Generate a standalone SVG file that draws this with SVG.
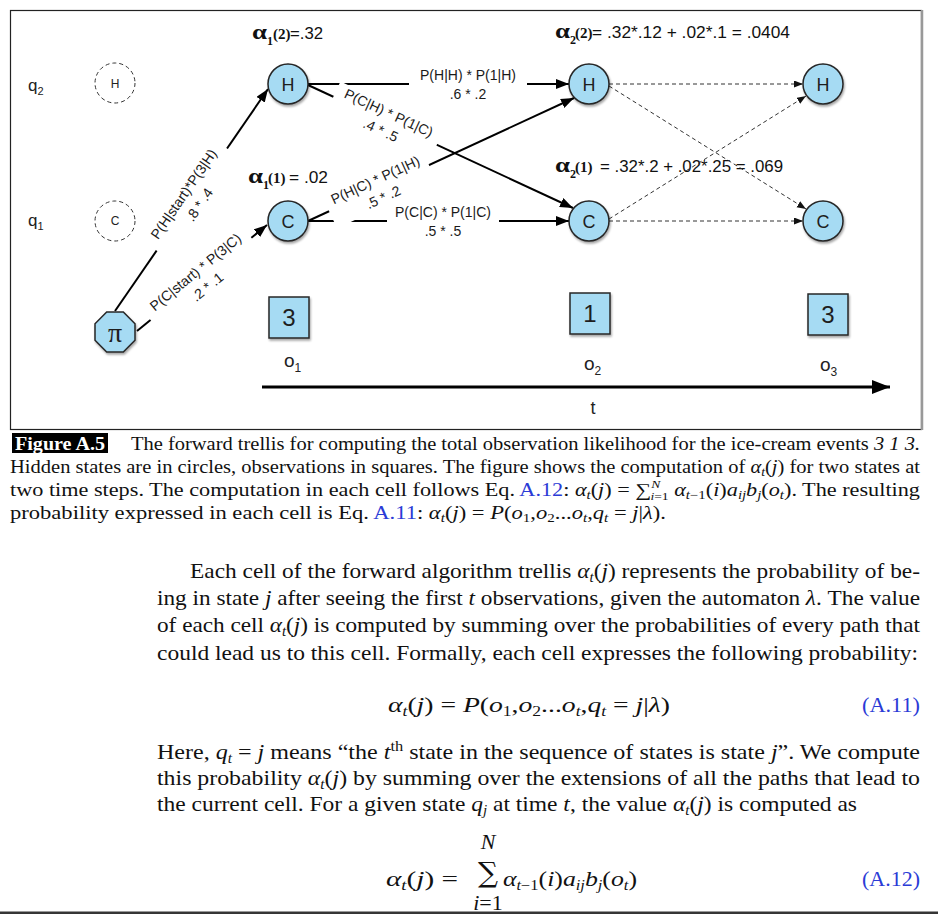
<svg xmlns="http://www.w3.org/2000/svg" width="938" height="914" viewBox="0 0 938 914">
<defs>
<style>
.sans{font-family:"Liberation Sans",Arial,sans-serif}
.node{fill:#a6dbf3;stroke:#262626;stroke-width:1.5}
.nt{font-family:"Liberation Sans",Arial,sans-serif;font-size:18px;fill:#1e1e1e;text-anchor:middle}
.ot{font-family:"Liberation Sans",Arial,sans-serif;font-size:24px;fill:#1e1e1e;text-anchor:middle}
.ghost{fill:none;stroke:#333;stroke-width:1;stroke-dasharray:4 3}
.gt{font-family:"Liberation Sans",Arial,sans-serif;font-size:12px;fill:#222;text-anchor:middle}
.e{stroke:#000;stroke-width:2;fill:none}
.d{stroke:#333;stroke-width:1;stroke-dasharray:4 3;fill:none}
.lb{font-family:"Liberation Sans",Arial,sans-serif;font-size:14px;fill:#1a1a1a;text-anchor:middle}
.bg{fill:#fff}
.ab{font-family:"Liberation Serif","Times New Roman",serif;font-weight:bold;fill:#111}
.as{font-family:"Liberation Sans",Arial,sans-serif;font-size:16px;fill:#111}
.ql{font-family:"Liberation Sans",Arial,sans-serif;fill:#222}
.cap{font-family:"Liberation Serif","Times New Roman",serif;font-size:18px;fill:#111}
.bd{font-family:"Liberation Serif","Times New Roman",serif;font-size:22px;fill:#111}
.i{font-style:italic}
.blue{fill:#2b3bd6}
</style>
<marker id="ah" markerUnits="userSpaceOnUse" markerWidth="14" markerHeight="10" refX="13" refY="5" orient="auto"><path d="M0,0 L13,5 L0,10 z" fill="#000"/></marker>
<marker id="ahd" markerUnits="userSpaceOnUse" markerWidth="10" markerHeight="8" refX="9" refY="3.5" orient="auto"><path d="M0,0 L9,3.5 L0,7 z" fill="#111"/></marker>
<marker id="aht" markerUnits="userSpaceOnUse" markerWidth="19" markerHeight="14" refX="18" refY="7" orient="auto"><path d="M0,0 L18,7 L0,14 z" fill="#000"/></marker>
<filter id="sh" x="-30%" y="-30%" width="160%" height="160%"><feDropShadow dx="1" dy="2" stdDeviation="1.2" flood-color="#000" flood-opacity="0.35"/></filter>
</defs>

<rect width="938" height="914" fill="#fff"/>
<rect x="10.5" y="10.5" width="911" height="419" fill="none" stroke="#222" stroke-width="1.2"/>
<line x1="922" y1="10" x2="922" y2="430" stroke="#999" stroke-width="2.5"/>
<rect x="0" y="911.5" width="938" height="2.5" fill="#353535"/>

<!-- row labels -->
<text class="ql" x="28" y="91" font-size="17">q<tspan font-size="11" dy="4">2</tspan></text>
<text class="ql" x="28" y="226" font-size="17">q<tspan font-size="11" dy="4">1</tspan></text>

<!-- alpha labels -->
<g id="alpha12">
<text class="ab" x="252" y="39" font-size="20" textLength="15" lengthAdjust="spacingAndGlyphs">α</text>
<text class="ab" x="267" y="45" font-size="12">1</text>
<text class="ab" x="273" y="39" font-size="15">(2)</text>
<text class="as" x="290" y="39" textLength="33" lengthAdjust="spacingAndGlyphs">=.32</text>
</g>
<g id="alpha11">
<text class="ab" x="248" y="183" font-size="20" textLength="15" lengthAdjust="spacingAndGlyphs">α</text>
<text class="ab" x="263" y="189" font-size="12">1</text>
<text class="ab" x="268" y="183" font-size="15">(1)</text>
<text class="as" x="289" y="183" textLength="39" lengthAdjust="spacingAndGlyphs">= .02</text>
</g>
<g id="alpha22">
<text class="ab" x="555" y="38" font-size="20" textLength="15" lengthAdjust="spacingAndGlyphs">α</text>
<text class="ab" x="570" y="44" font-size="12">2</text>
<text class="ab" x="575" y="38" font-size="15">(2)</text>
<text class="as" x="592" y="38" textLength="198" lengthAdjust="spacingAndGlyphs">= .32*.12 + .02*.1 = .0404</text>
</g>
<g id="alpha21">
<text class="ab" x="555" y="172" font-size="20" textLength="15" lengthAdjust="spacingAndGlyphs">α</text>
<text class="ab" x="570" y="178" font-size="12">2</text>
<text class="ab" x="575" y="172" font-size="15">(1)</text>
<text class="as" x="600" y="172" textLength="183" lengthAdjust="spacingAndGlyphs">= .32*.2 + .02*.25 = .069</text>
</g>

<!-- connectors -->
<g id="connectors">
<line class="e" x1="115" y1="311" x2="268" y2="89" marker-end="url(#ah)"/>
<line class="e" x1="137" y1="331" x2="267" y2="225" marker-end="url(#ah)"/>
<line class="e" x1="308" y1="84" x2="569" y2="84" marker-end="url(#ah)"/>
<line class="e" x1="308" y1="85" x2="573" y2="208" marker-end="url(#ah)"/>
<line class="e" x1="308" y1="221" x2="574" y2="98" marker-end="url(#ah)"/>
<line class="e" x1="308" y1="221" x2="569" y2="221" marker-end="url(#ah)"/>
<line class="d" x1="609" y1="84" x2="803" y2="84" marker-end="url(#ahd)"/>
<line class="d" x1="609" y1="86" x2="806" y2="209" marker-end="url(#ahd)"/>
<line class="d" x1="609" y1="219" x2="806" y2="96" marker-end="url(#ahd)"/>
<line class="d" x1="609" y1="221" x2="803" y2="221" marker-end="url(#ahd)"/>
<line x1="262" y1="387" x2="890" y2="387" stroke="#000" stroke-width="3" marker-end="url(#aht)"/>

<g transform="translate(191,199) rotate(-55.6)"><rect class="bg" x="-62" y="-17" width="124" height="36"/><text class="lb" y="-4">P(H|start)*P(3|H)</text><text class="lb" y="15">.8 * .4</text></g>
<g transform="translate(201,279) rotate(-39.2)"><rect class="bg" x="-65" y="-17" width="130" height="36"/><text class="lb" y="-4">P(C|start) * P(3|C)</text><text class="lb" y="15">.2 * .1</text></g>
<g transform="translate(385,121) rotate(24.9)"><rect class="bg" x="-57" y="-17" width="114" height="36"/><text class="lb" y="-4">P(C|H) * P(1|C)</text><text class="lb" y="15">.4 * .5</text></g>
<g transform="translate(379,188) rotate(-24.8)"><rect class="bg" x="-55" y="-17" width="110" height="36"/><text class="lb" y="-4">P(H|C) * P(1|H)</text><text class="lb" y="15">.5 * .2</text></g>
<g transform="translate(468,84)"><rect class="bg" x="-59" y="-17" width="118" height="36"/><text class="lb" y="-4">P(H|H) * P(1|H)</text><text class="lb" y="15">.6 * .2</text></g>
<g transform="translate(443,221)"><rect class="bg" x="-56" y="-17" width="112" height="36"/><text class="lb" y="-4">P(C|C) * P(1|C)</text><text class="lb" y="15">.5 * .5</text></g>
</g>

<!-- nodes -->
<g id="ghostH"><circle class="ghost" cx="115" cy="83" r="20"/><text class="gt" x="115" y="88">H</text></g>
<g id="ghostC"><circle class="ghost" cx="115" cy="221" r="20"/><text class="gt" x="115" y="225">C</text></g>
<g id="pi"><polygon class="node" filter="url(#sh)" points="135,340.3 123.3,352 106.7,352 95,340.3 95,323.7 106.7,312 123.3,312 135,323.7"/><text x="115" y="342" text-anchor="middle" font-family="Liberation Serif, serif" font-size="28" fill="#1e1e1e">π</text></g>
<g id="H1"><circle class="node" filter="url(#sh)" cx="288" cy="84" r="20"/><text class="nt" x="288" y="91">H</text></g>
<g id="C1"><circle class="node" filter="url(#sh)" cx="288" cy="221" r="20"/><text class="nt" x="288" y="228">C</text></g>
<g id="H2"><circle class="node" filter="url(#sh)" cx="589" cy="84" r="20"/><text class="nt" x="589" y="91">H</text></g>
<g id="C2"><circle class="node" filter="url(#sh)" cx="589" cy="221" r="20"/><text class="nt" x="589" y="228">C</text></g>
<g id="H3"><circle class="node" filter="url(#sh)" cx="823" cy="84" r="20"/><text class="nt" x="823" y="91">H</text></g>
<g id="C3"><circle class="node" filter="url(#sh)" cx="823" cy="221" r="20"/><text class="nt" x="823" y="228">C</text></g>
<g id="obs1"><rect class="node" filter="url(#sh)" x="269" y="297" width="40" height="41"/><text class="ot" x="289" y="326">3</text></g>
<g id="obs2"><rect class="node" filter="url(#sh)" x="570" y="293" width="40" height="41"/><text class="ot" x="590" y="322">1</text></g>
<g id="obs3"><rect class="node" filter="url(#sh)" x="808" y="294" width="40" height="41"/><text class="ot" x="828" y="323">3</text></g>

<text class="ql" x="284" y="367" font-size="19">o<tspan font-size="12" dy="5">1</tspan></text>
<text class="ql" x="584" y="370" font-size="19">o<tspan font-size="12" dy="5">2</tspan></text>
<text class="ql" x="820" y="371" font-size="19">o<tspan font-size="12" dy="5">3</tspan></text>
<text class="ql" x="593" y="414" font-size="18" text-anchor="middle">t</text>

<!-- caption -->
<rect x="12" y="433" width="96" height="20" fill="#000"/>
<text x="15" y="450" font-family="Liberation Serif, serif" font-weight="bold" font-size="19" fill="#fff" textLength="90" lengthAdjust="spacingAndGlyphs">Figure A.5</text>
<text class="cap" x="131" y="450" textLength="789" lengthAdjust="spacingAndGlyphs">The forward trellis for computing the total observation likelihood for the ice-cream events <tspan class="i">3 1 3.</tspan></text>
<text class="cap" x="10" y="473" textLength="910" lengthAdjust="spacingAndGlyphs">Hidden states are in circles, observations in squares. The figure shows the computation of <tspan class="i">α</tspan><tspan class="i" font-size="12" dy="3">t</tspan><tspan dy="-3">(</tspan><tspan class="i">j</tspan>) for two states at</text>
<text class="cap" x="10" y="496" textLength="910" lengthAdjust="spacingAndGlyphs">two time steps. The computation in each cell follows Eq. <tspan class="blue">A.12</tspan>: <tspan class="i">α</tspan><tspan class="i" font-size="12" dy="3">t</tspan><tspan dy="-3">(</tspan><tspan class="i">j</tspan>) = ∑<tspan class="i" font-size="11" dy="-8">N</tspan><tspan font-size="11" dx="-8" dy="12"><tspan class="i">i</tspan>=1</tspan><tspan dy="-4"> </tspan><tspan class="i">α</tspan><tspan class="i" font-size="12" dy="3">t</tspan><tspan font-size="12">−1</tspan><tspan dy="-3">(</tspan><tspan class="i">i</tspan>)<tspan class="i">a</tspan><tspan class="i" font-size="12" dy="3">ij</tspan><tspan class="i" dy="-3">b</tspan><tspan class="i" font-size="12" dy="3">j</tspan><tspan dy="-3">(</tspan><tspan class="i">o</tspan><tspan class="i" font-size="12" dy="3">t</tspan><tspan dy="-3">). The resulting</tspan></text>
<text class="cap" x="10" y="519" textLength="656" lengthAdjust="spacingAndGlyphs">probability expressed in each cell is Eq. <tspan class="blue">A.11</tspan>: <tspan class="i">α</tspan><tspan class="i" font-size="12" dy="3">t</tspan><tspan dy="-3">(</tspan><tspan class="i">j</tspan>) = <tspan class="i">P</tspan>(<tspan class="i">o</tspan><tspan font-size="12" dy="3">1</tspan><tspan dy="-3">,</tspan><tspan class="i">o</tspan><tspan font-size="12" dy="3">2</tspan><tspan dy="-3">...</tspan><tspan class="i">o</tspan><tspan class="i" font-size="12" dy="3">t</tspan><tspan dy="-3">,</tspan><tspan class="i">q</tspan><tspan class="i" font-size="12" dy="3">t</tspan><tspan dy="-3"> = </tspan><tspan class="i">j</tspan>|<tspan class="i">λ</tspan>).</text>

<!-- body -->
<text class="bd" x="190" y="578" textLength="730" lengthAdjust="spacingAndGlyphs">Each cell of the forward algorithm trellis <tspan class="i">α</tspan><tspan class="i" font-size="14" dy="4">t</tspan><tspan dy="-4">(</tspan><tspan class="i">j</tspan>) represents the probability of be-</text>
<text class="bd" x="157" y="605" textLength="763" lengthAdjust="spacingAndGlyphs">ing in state <tspan class="i">j</tspan> after seeing the first <tspan class="i">t</tspan> observations, given the automaton <tspan class="i">λ</tspan>. The value</text>
<text class="bd" x="157" y="632" textLength="763" lengthAdjust="spacingAndGlyphs">of each cell <tspan class="i">α</tspan><tspan class="i" font-size="14" dy="4">t</tspan><tspan dy="-4">(</tspan><tspan class="i">j</tspan>) is computed by summing over the probabilities of every path that</text>
<text class="bd" x="157" y="660" textLength="761" lengthAdjust="spacingAndGlyphs">could lead us to this cell. Formally, each cell expresses the following probability:</text>
<text class="bd" x="388" y="712" textLength="282" lengthAdjust="spacingAndGlyphs"><tspan class="i">α</tspan><tspan class="i" font-size="14" dy="4">t</tspan><tspan dy="-4">(</tspan><tspan class="i">j</tspan>) = <tspan class="i">P</tspan>(<tspan class="i">o</tspan><tspan font-size="14" dy="4">1</tspan><tspan dy="-4">,</tspan><tspan class="i">o</tspan><tspan font-size="14" dy="4">2</tspan><tspan dy="-4">...</tspan><tspan class="i">o</tspan><tspan class="i" font-size="14" dy="4">t</tspan><tspan dy="-4">,</tspan><tspan class="i">q</tspan><tspan class="i" font-size="14" dy="4">t</tspan><tspan dy="-4"> = </tspan><tspan class="i">j</tspan>|<tspan class="i">λ</tspan>)</text>
<text class="bd blue" x="862" y="712" textLength="58" lengthAdjust="spacingAndGlyphs">(A.11)</text>
<text class="bd" x="157" y="759" textLength="763" lengthAdjust="spacingAndGlyphs">Here, <tspan class="i">q</tspan><tspan class="i" font-size="14" dy="4">t</tspan><tspan dy="-4"> = </tspan><tspan class="i">j</tspan> means “the <tspan class="i">t</tspan><tspan font-size="15" dy="-8">th</tspan><tspan dy="8"> state in the sequence of states is state </tspan><tspan class="i">j</tspan>”. We compute</text>
<text class="bd" x="157" y="785" textLength="763" lengthAdjust="spacingAndGlyphs">this probability <tspan class="i">α</tspan><tspan class="i" font-size="14" dy="4">t</tspan><tspan dy="-4">(</tspan><tspan class="i">j</tspan>) by summing over the extensions of all the paths that lead to</text>
<text class="bd" x="157" y="811" textLength="700" lengthAdjust="spacingAndGlyphs">the current cell. For a given state <tspan class="i">q</tspan><tspan class="i" font-size="14" dy="4">j</tspan><tspan dy="-4"> at time </tspan><tspan class="i">t</tspan>, the value <tspan class="i">α</tspan><tspan class="i" font-size="14" dy="4">t</tspan><tspan dy="-4">(</tspan><tspan class="i">j</tspan>) is computed as</text>
<text class="bd" x="386" y="886" textLength="72" lengthAdjust="spacingAndGlyphs"><tspan class="i">α</tspan><tspan class="i" font-size="14" dy="4">t</tspan><tspan dy="-4">(</tspan><tspan class="i">j</tspan>) =</text>
<text x="488" y="882" text-anchor="middle" font-family="DejaVu Serif, serif" font-size="28" fill="#111">∑</text>
<text class="bd i" x="488" y="849" text-anchor="middle" font-size="13">N</text>
<text class="bd" x="488" y="910" text-anchor="middle" font-size="14"><tspan class="i">i</tspan>=1</text>
<text class="bd" x="503" y="886" textLength="134" lengthAdjust="spacingAndGlyphs"><tspan class="i">α</tspan><tspan class="i" font-size="14" dy="4">t</tspan><tspan font-size="14">−1</tspan><tspan dy="-4">(</tspan><tspan class="i">i</tspan>)<tspan class="i">a</tspan><tspan class="i" font-size="14" dy="4">ij</tspan><tspan class="i" dy="-4">b</tspan><tspan class="i" font-size="14" dy="4">j</tspan><tspan dy="-4">(</tspan><tspan class="i">o</tspan><tspan class="i" font-size="14" dy="4">t</tspan><tspan dy="-4">)</tspan></text>
<text class="bd blue" x="862" y="886" textLength="58" lengthAdjust="spacingAndGlyphs">(A.12)</text>
</svg>
